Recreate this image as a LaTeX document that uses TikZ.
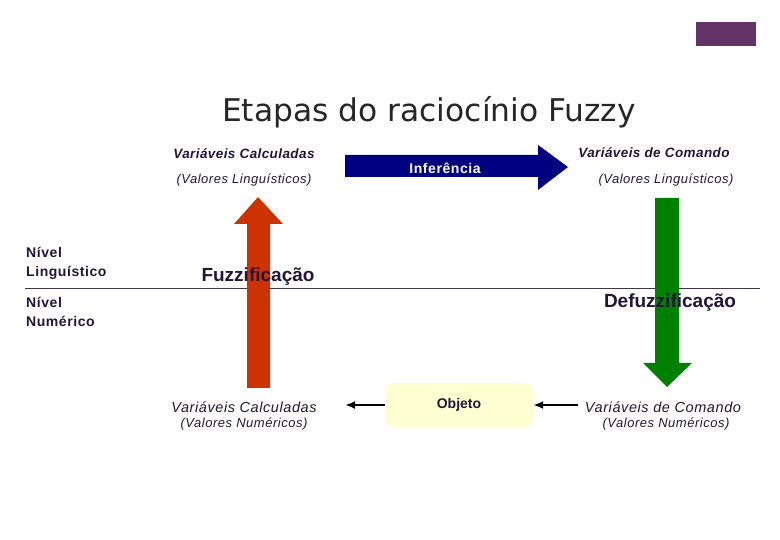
\documentclass[tikz,border=0pt]{standalone}
\usepackage{fontspec}
\setmainfont{Liberation Sans}
\newfontfamily\titlefont{DejaVu Sans}
\newfontfamily\spA[LetterSpace=3]{Liberation Sans}
\newfontfamily\spB[LetterSpace=4]{Liberation Sans}
\usetikzlibrary{arrows.meta}
\definecolor{txt}{HTML}{21163A}
\definecolor{fuzred}{HTML}{CC3300}
\definecolor{fuzgreen}{HTML}{008000}
\definecolor{navyb}{HTML}{000080}
\definecolor{purp}{HTML}{623366}
\definecolor{objfill}{HTML}{FFFFD2}
\definecolor{linec}{HTML}{3D3557}
\begin{document}
\begin{tikzpicture}[x=1pt,y=-1pt,
  lab/.style={inner sep=0pt,text=txt,font=\spA\fontsize{13.5}{15}\selectfont\bfseries\itshape},
  sub/.style={inner sep=0pt,text=txt,font=\spB\fontsize{13}{15}\selectfont\itshape},
  btm/.style={inner sep=0pt,text=txt,font=\spB\fontsize{14.5}{16}\selectfont\itshape},
  lvl/.style={inner sep=0pt,text=txt,anchor=west,align=left,font=\spB\fontsize{14}{19}\selectfont\bfseries},
  stage/.style={inner sep=0pt,text=txt,font=\fontsize{19}{22}\selectfont\bfseries},
  small/.style={-{Latex[length=10pt,width=8pt]},line width=2pt,black}]
\useasboundingbox (0,0) rectangle (780,540);
\fill[white] (0,0) rectangle (780,540);
% purple corner block
\fill[purp] (696,22) rectangle (756,46);
% title
\node[inner sep=0pt,text=black!85,font=\titlefont\fontsize{31.3}{34}\selectfont] (title) at (429,112) {Etapas do raciocínio Fuzzy};
% separator line
\draw[linec,line width=1pt] (25,289) -- (760,289);
% red arrow (fuzzification)
\fill[fuzred] (247,388) -- (270,388) -- (270,224) -- (283,224) -- (258,197) -- (234,224) -- (247,224) -- cycle;
% green arrow (defuzzification)
\fill[fuzgreen] (655,198) -- (679,198) -- (679,363) -- (692,363) -- (667,387) -- (643,363) -- (655,363) -- cycle;
% inference arrow
\fill[navyb] (345,155) -- (538,155) -- (538,145) -- (568,167) -- (538,190) -- (538,177) -- (345,177) -- cycle;
\node[inner sep=0pt,text=white,font=\spB\fontsize{14}{16}\selectfont\bfseries] (inf) at (445,168) {Inferência};
% top labels
\node[lab] (vcl) at (244,154) {Variáveis Calculadas};
\node[sub] (vcls) at (244,180) {(Valores Linguísticos)};
\node[lab] (vdl) at (654,153) {Variáveis de Comando};
\node[sub] (vdls) at (666,180) {(Valores Linguísticos)};
% level labels
\node[lvl] (nl) at (26,263) {Nível\\Linguístico};
\node[lvl] (nn) at (26,312) {Nível\\Numérico};
% stage labels
\node[stage] (fuz) at (258,277) {Fuzzificação};
\node[stage] (defuz) at (670,303) {Defuzzificação};
% object box
\node[draw=none,fill=objfill,rounded corners=8pt,minimum width=148pt,minimum height=44pt,inner sep=0pt,text=txt,font=\fontsize{14}{16}\selectfont\bfseries] (obj) at (459,405) {Objeto};
% bottom labels
\node[btm] (vcn) at (244,407) {Variáveis Calculadas};
\node[sub] (vcns) at (244,424) {(Valores Numéricos)};
\node[btm] (vdn) at (663,407) {Variáveis de Comando};
\node[sub] (vdns) at (666,424) {(Valores Numéricos)};
\coordinate (lefttip) at (345,405);
\coordinate (vdnw) at (578,405);
\draw[small] (obj.west) -- (lefttip);
\draw[small] (vdnw) -- (obj.east);
\end{tikzpicture}
\end{document}
